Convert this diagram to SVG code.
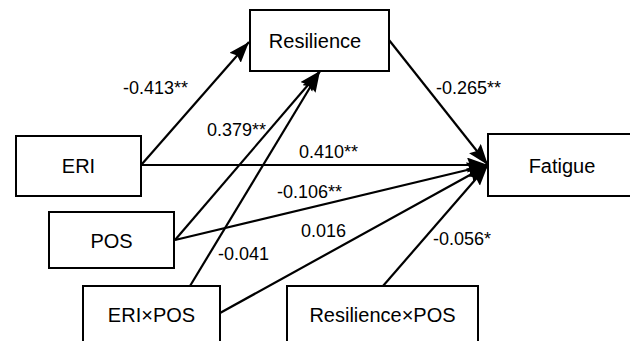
<svg xmlns="http://www.w3.org/2000/svg" width="630" height="341" viewBox="0 0 630 341">
<style>
.box{fill:#fff;stroke:#000;stroke-width:2}
.nt{font-family:"Liberation Sans",Arial,sans-serif;font-size:20px;text-anchor:middle;fill:#000}
.lb{font-family:"Liberation Sans",Arial,sans-serif;font-size:18px;fill:#000}
.ed{stroke:#000;stroke-width:2.2;fill:none;marker-end:url(#ah)}
</style>
<defs>
<marker id="ah" markerUnits="userSpaceOnUse" markerWidth="22" markerHeight="16" refX="21" refY="7.5" orient="auto">
<path d="M0,0 L21,7.5 L0,15 L3,7.5 z" fill="#000"/>
</marker>
</defs>
<rect width="630" height="341" fill="#fff"/>
<g id="connectors">
<line class="ed" x1="142" y1="164" x2="249" y2="42"/>
<line class="ed" x1="141" y1="165" x2="488" y2="165"/>
<line class="ed" x1="389" y1="40" x2="488" y2="165"/>
<line class="ed" x1="175" y1="240" x2="320" y2="71"/>
<line class="ed" x1="190" y1="286" x2="320" y2="71"/>
<line class="ed" x1="175" y1="240" x2="488" y2="165"/>
<line class="ed" x1="220" y1="313" x2="488" y2="165"/>
<line class="ed" x1="383" y1="286" x2="488" y2="165"/>
</g>
<g id="labels">
<text class="lb" x="123" y="94">-0.413**</text>
<text class="lb" x="207" y="136">0.379**</text>
<text class="lb" x="436" y="94">-0.265**</text>
<text class="lb" x="299" y="158">0.410**</text>
<text class="lb" x="277" y="198">-0.106**</text>
<text class="lb" x="301" y="237">0.016</text>
<text class="lb" x="218" y="260">-0.041</text>
<text class="lb" x="433" y="245">-0.056*</text>
</g>
<g id="node-resilience">
<rect class="box" x="250" y="10" width="139" height="61"/>
<text class="nt" x="315" y="48">Resilience</text>
</g>
<g id="node-eri">
<rect class="box" x="16" y="136" width="125" height="60"/>
<text class="nt" x="78.5" y="173">ERI</text>
</g>
<g id="node-fatigue">
<rect class="box" x="488" y="134" width="148" height="62"/>
<text class="nt" x="562" y="173">Fatigue</text>
</g>
<g id="node-pos">
<rect class="box" x="49" y="212" width="125" height="56"/>
<text class="nt" x="111.5" y="248">POS</text>
</g>
<g id="node-eripos">
<rect class="box" x="83" y="286" width="137" height="60"/>
<text class="nt" x="151.5" y="322">ERI×POS</text>
</g>
<g id="node-respos">
<rect class="box" x="287" y="286" width="191" height="60"/>
<text class="nt" x="382.5" y="322">Resilience×POS</text>
</g>
</svg>
